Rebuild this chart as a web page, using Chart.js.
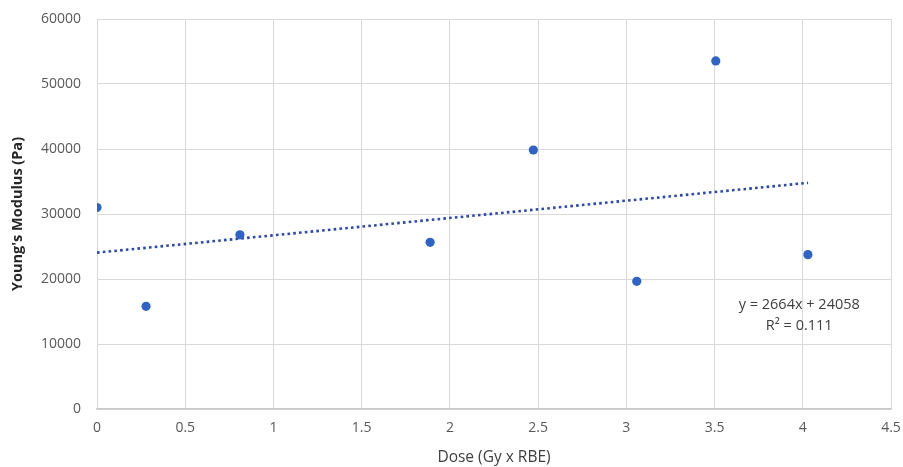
<!DOCTYPE html>
<html>
<head>
<meta charset="utf-8">
<script src="https://cdn.jsdelivr.net/npm/chart.js@4/dist/chart.umd.min.js"></script>
<style>
html,body{margin:0;padding:0;background:#fff;}
#wrap{width:903px;height:467px;position:relative;}
</style>
</head>
<body>
<div id="wrap"><canvas id="c" width="903" height="467"></canvas></div>
<script>
// Data
const doseValues = [0, 0.278, 0.81, 1.888, 2.473, 3.059, 3.507, 4.029];
const modulusValues = [31000, 15800, 26800, 25650, 39850, 19650, 53550, 23750];
const trendSlope = 2664;
const trendIntercept = 24058;
const trendXRange = [0, 4.03];
const xTicks = [0, 0.5, 1, 1.5, 2, 2.5, 3, 3.5, 4, 4.5];
const yTicks = [0, 10000, 20000, 30000, 40000, 50000, 60000];
const equationLines = ["y = 2664x + 24058", "R² = 0.111"];
const equationAnchor = [3.98, 16000];

const scatterPoints = doseValues.map((x, i) => ({x: x, y: modulusValues[i]}));
const trendPoints = trendXRange.map(x => ({x: x, y: trendSlope * x + trendIntercept}));

const FONT = "'Open Sans', 'Noto Sans', sans-serif";

const equationPlugin = {
  id: 'equation',
  afterDatasetsDraw(chart) {
    const ctx = chart.ctx;
    const xs = chart.scales.x, ys = chart.scales.y;
    const px = xs.getPixelForValue(equationAnchor[0]);
    const py = ys.getPixelForValue(equationAnchor[1]);
    ctx.save();
    ctx.font = "14.5px " + FONT;
    ctx.fillStyle = '#404040';
    ctx.textAlign = 'center';
    ctx.textBaseline = 'middle';
    equationLines.forEach((t, i) => ctx.fillText(t, px, py + i * 21));
    ctx.restore();
  }
};

new Chart(document.getElementById('c'), {
  type: 'scatter',
  data: {
    datasets: [
      {
        label: 'Trend',
        data: trendPoints,
        showLine: true,
        borderColor: '#2a48b0',
        borderWidth: 2.6,
        borderDash: [2.6, 3.2],
        pointRadius: 0,
        fill: false,
        order: 2
      },
      {
        label: "Young's Modulus",
        data: scatterPoints,
        backgroundColor: '#2f63c6',
        borderColor: '#2f63c6',
        pointRadius: 4.6,
        pointBorderWidth: 0,
        order: 1
      }
    ]
  },
  options: {
    responsive: false,
    animation: false,
    events: [],
    layout: {padding: {left: 0, right: 12, top: 19, bottom: 0}},
    plugins: {legend: {display: false}, tooltip: {enabled: false}},
    scales: {
      x: {
        type: 'linear',
        min: 0, max: 4.5,
        afterBuildTicks: (s) => { s.ticks = xTicks.map(v => ({value: v})); },
        afterFit: (s) => { s.height = 58; s.paddingLeft = 0; s.paddingRight = 0; },
        grid: {color: '#d9d9d9', lineWidth: 1, drawTicks: false},
        border: {color: '#c8c8c8', width: 1.5},
        ticks: {color: '#595959', font: {family: FONT, size: 14}, padding: 11, maxRotation: 0, callback: (v) => String(v)},
        title: {display: true, text: 'Dose (Gy x RBE)', color: '#404040', font: {family: FONT, size: 15.5}, padding: {top: 0, bottom: 0}}
      },
      y: {
        type: 'linear',
        min: 0, max: 60000,
        afterBuildTicks: (s) => { s.ticks = yTicks.map(v => ({value: v})); },
        afterFit: (s) => { s.width = 97; s.paddingTop = 0; s.paddingBottom = 0; },
        grid: {color: '#d9d9d9', lineWidth: 1, drawTicks: false},
        border: {color: '#d9d9d9', width: 1},
        ticks: {color: '#595959', font: {family: FONT, size: 14}, padding: 16, callback: (v) => String(v)},
        title: {display: true, text: "Young's Modulus (Pa)", color: '#262626', font: {family: FONT, size: 14.5, weight: 'bold'}, padding: {top: 9, bottom: 0}}
      }
    }
  },
  plugins: [equationPlugin]
});
</script>
</body>
</html>
